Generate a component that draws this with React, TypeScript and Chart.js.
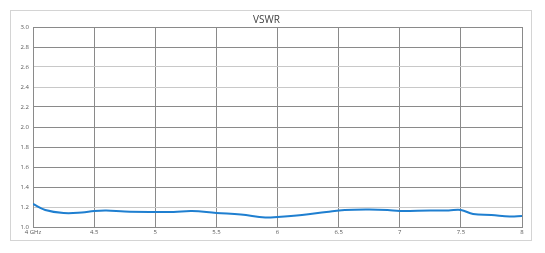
import React, { useEffect, useRef } from "react";
import { Chart, registerables } from "chart.js";
Chart.register(...registerables);

const freqs = [4.0, 4.1, 4.25, 4.4, 4.5, 4.6, 4.75, 5.0, 5.15, 5.3, 5.5, 5.7, 5.9, 6.0, 6.2, 6.4, 6.55, 6.75, 6.9, 7.0, 7.25, 7.4, 7.5, 7.6, 7.75, 7.9, 8.0];
const vswr = [1.23, 1.17, 1.14, 1.145, 1.16, 1.165, 1.155, 1.15, 1.15, 1.16, 1.14, 1.125, 1.095, 1.10, 1.12, 1.15, 1.17, 1.175, 1.17, 1.16, 1.165, 1.165, 1.17, 1.13, 1.12, 1.105, 1.11];
const lightY = [2.6, 2.4, 1.2];
const title = "VSWR";

export default function App() {
  const ref = useRef<HTMLCanvasElement>(null);
  useEffect(() => {
    const chart = new Chart(ref.current!, {
      type: "line",
      data: {
        datasets: [
          {
            data: freqs.map((f, i) => ({ x: f, y: vswr[i] })),
            borderColor: "#1f7fd0",
            borderWidth: 2,
            pointRadius: 0,
            tension: 0.4,
            fill: false,
          },
        ],
      },
      options: {
        animation: false,
        responsive: false,
        layout: { padding: { left: 0, right: 9, top: 0, bottom: 0 } },
        plugins: {
          legend: { display: false },
          tooltip: { enabled: false },
          title: {
            display: true,
            text: title,
            color: "#404040",
            font: { family: "Open Sans", size: 10, weight: "normal" },
            padding: { top: 3, bottom: 1 },
          },
        },
        scales: {
          x: {
            type: "linear",
            min: 4,
            max: 8,
            afterFit: (s: any) => { s.height = 13; },
            ticks: {
              stepSize: 0.5,
              maxRotation: 0,
              autoSkip: false,
              padding: 2,
              color: "#595959",
              font: { family: "Open Sans", size: 6 },
              callback: (v: any) => (v === 4 ? "4 GHz" : String(v)),
            },
            grid: { color: "#8a8a8a", lineWidth: 1, drawTicks: false },
            border: { color: "#8a8a8a" },
          },
          y: {
            min: 1,
            max: 3,
            afterFit: (s: any) => { s.width = 22; },
            ticks: {
              stepSize: 0.2,
              padding: 4,
              color: "#595959",
              font: { family: "Open Sans", size: 6 },
              callback: (v: any) => Number(v).toFixed(1),
            },
            grid: {
              drawTicks: false,
              color: (c: any) =>
                c.tick && lightY.some((l) => Math.abs(l - c.tick.value) < 1e-6) ? "#c8c8c8" : "#8a8a8a",
            },
            border: { color: "#8a8a8a" },
          },
        },
      },
    });
    return () => chart.destroy();
  }, []);
  return (
    <div
      style={{
        position: "absolute",
        left: 10,
        top: 10,
        width: 520,
        height: 229,
        border: "1px solid #d4d4d4",
        background: "#fff",
      }}
    >
      <canvas ref={ref} width={520} height={229} style={{ display: "block" }} />
    </div>
  );
}
